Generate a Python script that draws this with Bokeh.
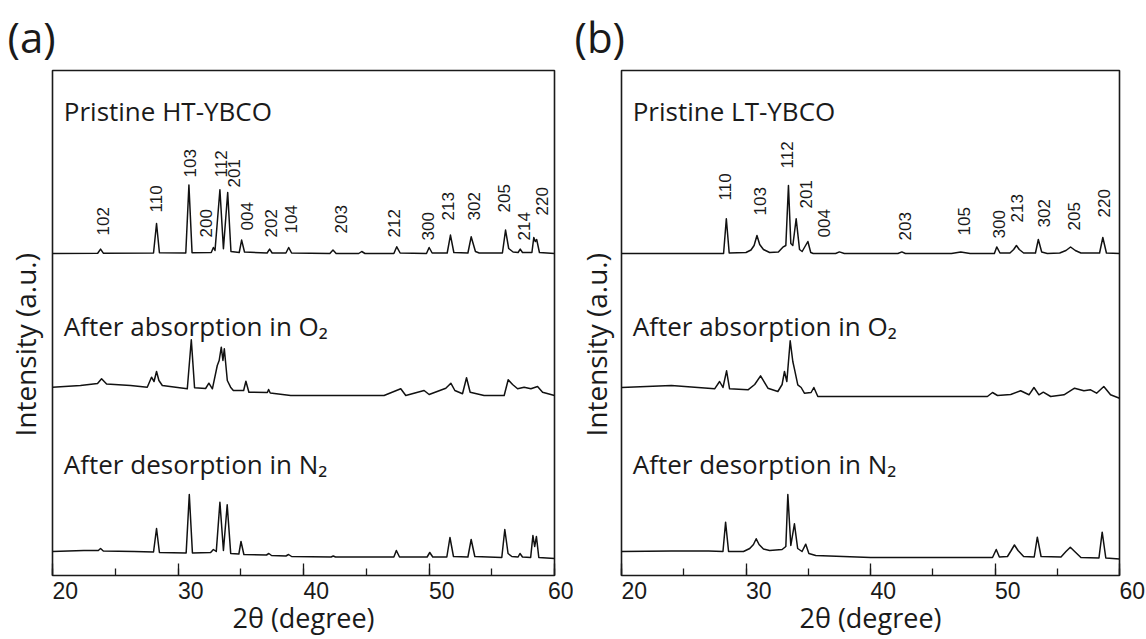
import numpy as np
from bokeh.plotting import figure
from bokeh.layouts import row
from bokeh.models import Range1d, FixedTicker, SingleIntervalTicker
from bokeh.core.properties import value
from bokeh.embed import file_html
from bokeh.resources import INLINE

# ---------------- data (2theta in degrees, intensity in a.u.) ----------------
# Panel (a): HT-YBCO
A_PRISTINE = [(20.0, 0), (23.6, 0.3), (23.83, 4.4), (24.05, 0.3), (28.05, 0.5), (28.29, 30), (28.52, 0.8),
              (30.62, 0.5), (30.87, 68.4), (31.12, 0.8), (32.65, 1), (32.82, 6), (32.95, 3), (33.34, 63.7),
              (33.62, 4.7), (33.96, 61), (34.22, 2), (34.88, 1), (35.07, 13.4), (35.3, 1.5), (37.1, 0.5),
              (37.3, 4.4), (37.5, 0.5), (38.6, 0.5), (38.82, 6), (39.05, 0.5), (42.1, 0), (42.35, 3.4),
              (42.6, 0), (44.4, 0), (44.64, 2), (44.9, 0), (47.2, 0), (47.43, 6.7), (47.7, 0.5), (49.8, 0),
              (50.01, 6), (50.25, 0.5), (51.45, 0.5), (51.71, 18.4), (51.98, 1), (53.1, 0.5), (53.36, 16.7),
              (53.7, 2), (54.0, 0.5), (55.85, 0.5), (56.1, 23.4), (56.35, 5), (56.7, 1.5), (57.1, 1),
              (57.27, 4.4), (57.45, 1), (58.2, 1), (58.35, 16), (58.47, 12), (58.58, 14), (58.8, 1), (60.0, 0)]
A_ABSORB = [(20.0, 0.3), (22.23, 2), (23.59, 4), (23.91, 8.7), (24.31, 3.5), (26.22, 2), (27.55, 0.3),
            (27.89, 10.3), (28.09, 6), (28.29, 16), (28.48, 7), (28.75, 2), (30.74, -1.3), (31.06, 47.7),
            (31.32, -0.3), (32.2, -1), (32.46, 4.3), (32.74, -1.3), (33.13, 22), (33.28, 27), (33.45, 40.3),
            (33.58, 27), (33.69, 38.7), (33.93, 7), (34.19, 0.3), (34.41, -3), (35.23, -3), (35.41, 6.3),
            (35.65, -4.7), (37.12, -5), (37.22, -2), (37.35, -5.5), (38.98, -8), (46.42, -8), (47.75, -1.3),
            (48.15, -8), (49.61, -3), (50.01, -7), (51.34, -0.7), (51.74, 4.3), (52.06, -3), (52.67, -6.3),
            (52.99, 9.7), (53.28, -4.7), (54.39, -8), (55.99, -8), (56.31, 7.7), (56.66, 3), (57.06, -1.3),
            (57.58, 0.3), (58.12, -1.3), (58.65, 1), (59.05, -4.7), (60.0, -8)]
A_DESORB = [(20.0, 0), (22.5, 1), (23.65, 1), (23.83, 3), (24.05, 0.5), (26.5, 0), (28.05, -0.5), (28.29, 23),
            (28.52, -1), (30.65, -1.5), (30.9, 57), (31.15, -1.5), (32.6, -1), (32.82, 2), (33.05, 0),
            (33.34, 49.3), (33.62, 1), (33.92, 46.7), (34.2, -2), (34.85, -2.5), (35.02, 10), (35.25, -3),
            (37.05, -3.5), (37.24, -2), (37.45, -4), (38.6, -4.5), (38.81, -3), (39.05, -5), (42.2, -5.5),
            (42.37, -4.5), (42.55, -5.5), (47.2, -5.5), (47.4, 1), (47.65, -5.5), (49.85, -5.5), (50.06, -1),
            (50.3, -5.5), (51.42, -5.5), (51.67, 14), (51.95, -5), (53.1, -5.5), (53.36, 12), (53.65, -5),
            (55.8, -6), (56.04, 22), (56.3, -2), (56.6, -5), (57.1, -5.5), (57.25, -2), (57.45, -5.5),
            (58.1, -6), (58.28, 16), (58.42, 5), (58.56, 15), (58.75, -6), (60.0, -7)]

# Panel (b): LT-YBCO
B_PRISTINE = [(20.0, 0), (28.2, 0), (28.42, 34.7), (28.65, 0.5), (30.0, 1), (30.4, 3.5), (30.65, 8),
              (30.88, 18), (31.1, 9), (31.4, 4), (31.9, 1), (32.6, 1.5), (32.96, 6.3), (33.2, 8), (33.41, 68),
              (33.6, 10), (33.76, 8), (34.03, 34.7), (34.3, 4), (34.51, 2), (34.97, 12), (35.2, 1), (35.4, 0),
              (37.2, 0), (37.5, 1.6), (37.9, 0), (42.2, 0), (42.52, 1.6), (42.8, 0), (46.5, 0), (47.25, 1.6),
              (48.0, 0), (49.95, 0), (50.14, 6.6), (50.4, 0.5), (51.2, 0.5), (51.5, 4), (51.72, 8), (51.95, 4),
              (52.3, 0.5), (53.25, 0.5), (53.48, 14), (53.75, 1.5), (54.2, 0), (55.2, 0.5), (55.7, 3),
              (56.07, 6.5), (56.45, 3), (56.9, 0.5), (58.4, 0.5), (58.66, 16), (58.95, 0.5), (60.0, 0)]
B_ABSORB = [(20.0, 0), (24.01, 2), (27.48, -1.3), (27.88, 6), (28.15, 0), (28.44, 16.7), (28.68, -1.3),
            (30.16, -2.3), (30.7, 3), (31.17, 11.7), (31.76, -0.7), (32.56, -4), (32.9, 3), (33.09, 16),
            (33.28, 6), (33.55, 46.7), (33.76, 26), (33.89, 18.7), (34.16, 2.7), (34.43, 0), (34.69, -5.7),
            (35.23, -5), (35.45, 0), (35.77, -9), (37.37, -9), (49.39, -9), (49.8, -5), (50.2, -8),
            (51.26, -7), (52.06, -3.3), (52.73, -7.3), (53.13, 0), (53.53, -7.3), (53.88, -4.7), (54.47, -9),
            (55.54, -7.3), (56.39, -0.7), (57.14, -3.3), (57.68, -2.3), (58.16, -5.7), (58.74, 1),
            (59.28, -7.3), (60.0, -10.7)]
B_DESORB = [(20.0, 0), (24.0, 0.5), (27.0, 0.5), (28.15, 0), (28.36, 29.3), (28.6, 0), (29.8, 0), (30.3, 3),
            (30.6, 7), (30.82, 12.7), (31.05, 7), (31.4, 2.5), (31.9, 1), (32.9, 2), (33.2, 5), (33.36, 57),
            (33.6, 6), (33.89, 27.7), (34.15, 3), (34.5, 0), (34.8, 7.3), (35.05, -2), (35.6, -4), (40.0, -6),
            (49.8, -6), (50.1, 2), (50.35, -5.5), (51.0, -5), (51.3, 1), (51.56, 6.5), (51.85, 1), (52.3, -5),
            (53.15, -5.5), (53.4, 14.3), (53.7, -5), (55.3, -5.5), (55.7, 0), (56.05, 4.3), (56.4, 0),
            (56.9, -6), (58.35, -6.5), (58.61, 19.3), (58.9, -6.5), (60.0, -7.5)]

# Peak (hkl) annotations
HKL_A = ["102", "110", "103", "200", "112", "201", "004", "202", "104", "203", "212", "300", "213", "302",
         "205", "214", "220"]
HKL_A_X = [24.03, 28.21, 30.96, 32.26, 33.40, 34.43, 35.53, 37.38, 38.98, 42.97, 47.19, 49.90, 51.54, 53.57,
           55.96, 57.56, 58.99]
HKL_B = ["110", "103", "112", "201", "004", "203", "105", "300", "213", "302", "205", "220"]
HKL_B_X = [28.32, 31.09, 33.33, 34.83, 36.30, 42.78, 47.50, 50.33, 51.73, 53.90, 56.36, 58.74]

TRACE_NAMES_A = ["Pristine HT-YBCO", "After absorption in O\u2082", "After desorption in N\u2082"]
TRACE_NAMES_B = ["Pristine LT-YBCO", "After absorption in O\u2082", "After desorption in N\u2082"]
X_TICKS = [20, 30, 40, 50, 60]

# ---------------- layout / style ----------------
OFFSETS = [322, 188, 24]          # vertical stacking offsets of the three patterns
NAME_Y = [465, 250, 112]          # baselines of the pattern names
HKL_A_Y = [340, 363, 398, 338, 398, 388, 345, 338, 342, 342, 338, 335, 355, 355, 363, 335, 360]
HKL_B_Y = [375, 360, 407, 367, 338, 335, 340, 337, 353, 348, 345, 358]

TXT_FONT = "Open Sans"
NUM_FONT = "Liberation Sans"
INK = "#1a1a1a"
NB = "\u00a0"   # non-breaking spaces reproduce the small offsets of the original's labels


def panel(letter, traces, names, hkl, hkl_x, hkl_y, width, border_left, frame_w, title_offset,
          label_pad, ylab_standoff):
    p = figure(width=width, height=639, x_range=Range1d(20, 60), y_range=Range1d(0, 505),
               output_backend="svg", toolbar_location=None,
               min_border_left=border_left, min_border_right=width - border_left - frame_w,
               min_border_top=70, min_border_bottom=64, title=letter)
    p.title.text_font = TXT_FONT
    p.title.text_font_size = "42px"
    p.title.text_font_style = "normal"
    p.title.text_color = INK
    p.title.align = "left"
    p.title.offset = title_offset
    p.title.standoff = 11

    p.grid.visible = False
    p.outline_line_color = INK
    p.outline_line_width = 1.6
    p.background_fill_color = "white"
    p.border_fill_color = "white"

    xa = p.xaxis[0]
    xa.ticker = SingleIntervalTicker(interval=10, num_minor_ticks=2)
    xa.major_tick_in = 12
    xa.major_tick_out = 0
    xa.minor_tick_in = 7
    xa.minor_tick_out = 0
    xa.axis_line_color = INK
    xa.major_tick_line_color = INK
    xa.minor_tick_line_color = INK
    xa.major_tick_line_width = 1.3
    xa.minor_tick_line_width = 1.3
    xa.major_label_overrides = {t: NB * n + str(t) for t, n in zip(X_TICKS, label_pad)}
    xa.major_label_text_font = NUM_FONT
    xa.major_label_text_font_size = "23px"
    xa.major_label_text_color = INK
    xa.major_label_standoff = 2
    xa.axis_label = "2\u03b8 (degree)"
    xa.axis_label_text_font = TXT_FONT
    xa.axis_label_text_font_size = "27px"
    xa.axis_label_text_font_style = "normal"
    xa.axis_label_text_color = INK
    xa.axis_label_standoff = -8

    ya = p.yaxis[0]
    ya.ticker = FixedTicker(ticks=[])
    ya.axis_line_color = None
    ya.major_tick_line_color = None
    ya.minor_tick_line_color = None
    ya.major_tick_out = 0
    ya.minor_tick_out = 0
    ya.axis_label = "Intensity (a.u.)" + NB * 6
    ya.axis_label_text_font = TXT_FONT
    ya.axis_label_text_font_size = "28px"
    ya.axis_label_text_font_style = "normal"
    ya.axis_label_text_color = INK
    ya.axis_label_standoff = ylab_standoff

    for trace, off in zip(traces, OFFSETS):
        xs = [pt[0] for pt in trace]
        ys = [pt[1] + off for pt in trace]
        p.line(xs, ys, line_color="#111111", line_width=1.5, line_join="round")

    p.text(x=[20.9] * 3, y=NAME_Y, text=names, text_font=value(TXT_FONT), text_font_size="26px",
           text_color=INK, text_baseline="alphabetic", text_align="left")
    p.text(x=hkl_x, y=hkl_y, text=hkl, angle=np.pi / 2, text_align="left", text_baseline="middle",
           text_font=value(NUM_FONT), text_font_size="17px", text_color=INK)
    return p


pa = panel("(a)", [A_PRISTINE, A_ABSORB, A_DESORB], TRACE_NAMES_A, HKL_A, HKL_A_X, HKL_A_Y,
           width=573, border_left=52, frame_w=502, title_offset=-45,
           label_pad=[4, 4, 4, 4, 2], ylab_standoff=9)
pb = panel("(b)", [B_PRISTINE, B_ABSORB, B_DESORB], TRACE_NAMES_B, HKL_B, HKL_B_X, HKL_B_Y,
           width=573, border_left=47, frame_w=499, title_offset=-47,
           label_pad=[4, 4, 4, 4, 4], ylab_standoff=7)

layout = row(pa, pb)
open("out.html", "w").write(file_html(layout, INLINE))
